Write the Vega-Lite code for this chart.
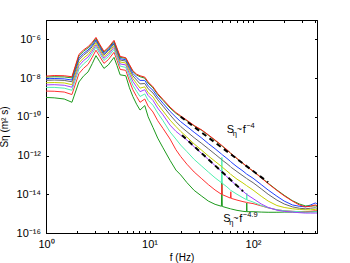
{
  "$schema": "https://vega.github.io/schema/vega-lite/v6.json",
  "width": 271,
  "height": 213,
  "autosize": {"type": "none"},
  "padding": {"left": 46, "top": 20, "right": 33, "bottom": 30},
  "background": "white",
  "config": {
    "font": "Liberation Sans",
    "view": {"stroke": "#000000", "strokeWidth": 1},
    "axis": {"domainColor": "#000000", "tickColor": "#000000", "labelColor": "#000000", "titleColor": "#000000", "grid": false, "labelFontSize": 11, "titleFontSize": 10, "titleFontWeight": "normal", "labelFlush": false, "labelOverlap": false}
  },
  "layer": [
    {
      "data": {"values": [
        {"f":1,"a":-7.9,"b":-7.95,"c":-8.04,"d":-8.12,"e":-8.24,"g":-8.35,"h":-8.48,"i":-8.67,"j":-9.0},
        {"f":1.2,"a":-7.87,"b":-7.93,"c":-8.02,"d":-8.1,"e":-8.23,"g":-8.34,"h":-8.48,"i":-8.68,"j":-9.02},
        {"f":1.5,"a":-7.88,"b":-7.94,"c":-8.04,"d":-8.12,"e":-8.25,"g":-8.37,"h":-8.52,"i":-8.72,"j":-9.08},
        {"f":1.78,"a":-7.93,"b":-7.99,"c":-8.1,"d":-8.19,"e":-8.34,"g":-8.47,"h":-8.63,"i":-8.85,"j":-9.25},
        {"f":2.08,"a":-6.78,"b":-6.85,"c":-6.96,"d":-7.06,"e":-7.22,"g":-7.36,"h":-7.53,"i":-7.77,"j":-8.2},
        {"f":2.3,"a":-6.55,"b":-6.62,"c":-6.73,"d":-6.82,"e":-6.97,"g":-7.1,"h":-7.27,"i":-7.5,"j":-7.9},
        {"f":2.55,"a":-6.38,"b":-6.44,"c":-6.55,"d":-6.64,"e":-6.78,"g":-6.91,"h":-7.07,"i":-7.29,"j":-7.68},
        {"f":2.8,"a":-6.15,"b":-6.2,"c":-6.29,"d":-6.37,"e":-6.49,"g":-6.6,"h":-6.73,"i":-6.92,"j":-7.25},
        {"f":3.04,"a":-5.9,"b":-5.95,"c":-6.02,"d":-6.09,"e":-6.19,"g":-6.29,"h":-6.4,"i":-6.56,"j":-6.84},
        {"f":3.3,"a":-6.25,"b":-6.3,"c":-6.37,"d":-6.43,"e":-6.53,"g":-6.62,"h":-6.73,"i":-6.88,"j":-7.15},
        {"f":3.63,"a":-6.62,"b":-6.66,"c":-6.73,"d":-6.8,"e":-6.89,"g":-6.98,"h":-7.09,"i":-7.24,"j":-7.5},
        {"f":4.0,"a":-6.42,"b":-6.47,"c":-6.54,"d":-6.6,"e":-6.7,"g":-6.79,"h":-6.9,"i":-7.05,"j":-7.32},
        {"f":4.54,"a":-6.05,"b":-6.1,"c":-6.16,"d":-6.23,"e":-6.32,"g":-6.41,"h":-6.52,"i":-6.67,"j":-6.93},
        {"f":4.85,"a":-6.45,"b":-6.5,"c":-6.57,"d":-6.63,"e":-6.73,"g":-6.82,"h":-6.93,"i":-7.08,"j":-7.35},
        {"f":5.2,"a":-6.88,"b":-6.93,"c":-7.0,"d":-7.07,"e":-7.17,"g":-7.27,"h":-7.38,"i":-7.55,"j":-7.83},
        {"f":5.9,"a":-6.95,"b":-6.98,"c":-7.05,"d":-7.12,"e":-7.22,"g":-7.32,"h":-7.45,"i":-7.6,"j":-7.88},
        {"f":6.4,"a":-7.3,"b":-7.34,"c":-7.42,"d":-7.52,"e":-7.65,"g":-7.78,"h":-7.95,"i":-8.15,"j":-8.5},
        {"f":6.9,"a":-7.62,"b":-7.66,"c":-7.76,"d":-7.88,"e":-8.02,"g":-8.17,"h":-8.37,"i":-8.6,"j":-8.95},
        {"f":7.5,"a":-7.8,"b":-7.84,"c":-7.96,"d":-8.1,"e":-8.28,"g":-8.45,"h":-8.68,"i":-8.95,"j":-9.35},
        {"f":8.1,"a":-7.88,"b":-7.93,"c":-8.12,"d":-8.3,"e":-8.52,"g":-8.7,"h":-8.95,"i":-9.25,"j":-9.65},
        {"f":9.0,"a":-7.95,"b":-8.0,"c":-8.12,"d":-8.28,"e":-8.45,"g":-8.6,"h":-8.82,"i":-9.08,"j":-9.42},
        {"f":9.7,"a":-8.2,"b":-8.26,"c":-8.4,"d":-8.55,"e":-8.75,"g":-8.9,"h":-9.15,"i":-9.45,"j":-10.0},
        {"f":10.8,"a":-8.45,"b":-8.5,"c":-8.63,"d":-8.77,"e":-8.97,"g":-9.15,"h":-9.4,"i":-9.75,"j":-10.55},
        {"f":12,"a":-8.8,"b":-8.85,"c":-8.98,"d":-9.12,"e":-9.35,"g":-9.55,"h":-9.8,"i":-10.2,"j":-11.1},
        {"f":13.5,"a":-9.1,"b":-9.15,"c":-9.3,"d":-9.45,"e":-9.7,"g":-9.9,"h":-10.2,"i":-10.6,"j":-11.6},
        {"f":15.8,"a":-9.5,"b":-9.55,"c":-9.72,"d":-9.9,"e":-10.17,"g":-10.43,"h":-10.78,"i":-11.15,"j":-12.25},
        {"f":18,"a":-9.78,"b":-9.82,"c":-10.02,"d":-10.25,"e":-10.5,"g":-10.75,"h":-11.15,"i":-11.7,"j":-12.75},
        {"f":20,"a":-9.95,"b":-9.99,"c":-10.25,"d":-10.5,"e":-10.75,"g":-10.95,"h":-11.46,"i":-12.05,"j":-13.0},
        {"f":23,"a":-10.18,"b":-10.21,"c":-10.5,"d":-10.77,"e":-11.05,"g":-11.2,"h":-11.8,"i":-12.45,"j":-13.4},
        {"f":27,"a":-10.45,"b":-10.47,"c":-10.8,"d":-11.08,"e":-11.4,"g":-11.55,"h":-12.2,"i":-12.85,"j":-13.8},
        {"f":32,"a":-10.68,"b":-10.7,"c":-11.1,"d":-11.38,"e":-11.73,"g":-11.9,"h":-12.55,"i":-13.2,"j":-14.1},
        {"f":37,"a":-10.93,"b":-10.95,"c":-11.38,"d":-11.65,"e":-12.02,"g":-12.2,"h":-12.85,"i":-13.5,"j":-14.35},
        {"f":43,"a":-11.2,"b":-11.22,"c":-11.65,"d":-11.93,"e":-12.3,"g":-12.52,"h":-13.15,"i":-13.78,"j":-14.52},
        {"f":49.5,"a":-11.46,"b":-11.48,"c":-11.92,"d":-12.2,"e":-12.56,"g":-12.82,"h":-13.4,"i":-14.0,"j":-14.62},
        {"f":50,"a":-11.48,"b":-11.5,"c":-11.94,"d":-12.22,"e":-12.58,"g":-12.84,"h":-12.1,"i":-13.5,"j":-13.4},
        {"f":50.5,"a":-11.5,"b":-11.52,"c":-11.96,"d":-12.24,"e":-12.6,"g":-12.86,"h":-13.43,"i":-14.02,"j":-14.63},
        {"f":56,"a":-11.7,"b":-11.72,"c":-12.15,"d":-12.42,"e":-12.8,"g":-13.1,"h":-13.62,"i":-14.12,"j":-14.7},
        {"f":60.5,"a":-11.86,"b":-11.87,"c":-12.3,"d":-12.57,"e":-12.95,"g":-13.26,"h":-13.78,"i":-14.2,"j":-14.75},
        {"f":61,"a":-11.88,"b":-11.89,"c":-12.32,"d":-12.59,"e":-12.97,"g":-13.28,"h":-13.8,"i":-13.87,"j":-14.75},
        {"f":61.5,"a":-11.9,"b":-11.91,"c":-12.34,"d":-12.61,"e":-12.99,"g":-13.3,"h":-13.81,"i":-14.21,"j":-14.76},
        {"f":70,"a":-12.15,"b":-12.16,"c":-12.58,"d":-12.83,"e":-13.22,"g":-13.57,"h":-14.0,"i":-14.3,"j":-14.83},
        {"f":80,"a":-12.4,"b":-12.41,"c":-12.8,"d":-13.05,"e":-13.42,"g":-13.84,"h":-14.18,"i":-14.38,"j":-14.88},
        {"f":86.5,"a":-12.55,"b":-12.56,"c":-12.95,"d":-13.18,"e":-13.55,"g":-14.0,"h":-14.28,"i":-14.42,"j":-14.9},
        {"f":87,"a":-12.57,"b":-12.58,"c":-12.96,"d":-13.19,"e":-13.56,"g":-14.01,"h":-13.95,"i":-14.42,"j":-14.45},
        {"f":87.5,"a":-12.58,"b":-12.59,"c":-12.97,"d":-13.2,"e":-13.57,"g":-14.02,"h":-14.29,"i":-14.43,"j":-14.9},
        {"f":100,"a":-12.8,"b":-12.8,"c":-13.17,"d":-13.4,"e":-13.78,"g":-14.22,"h":-14.4,"i":-14.48,"j":-14.9},
        {"f":120,"a":-13.15,"b":-13.13,"c":-13.5,"d":-13.72,"e":-14.1,"g":-14.5,"h":-14.58,"i":-14.6,"j":-14.92},
        {"f":140,"a":-13.45,"b":-13.43,"c":-13.78,"d":-14.0,"e":-14.35,"g":-14.68,"h":-14.7,"i":-14.7,"j":-14.93},
        {"f":170,"a":-13.8,"b":-13.78,"c":-14.1,"d":-14.3,"e":-14.58,"g":-14.82,"h":-14.8,"i":-14.8,"j":-14.93},
        {"f":200,"a":-14.08,"b":-14.05,"c":-14.35,"d":-14.5,"e":-14.68,"g":-14.88,"h":-14.85,"i":-14.85,"j":-14.92},
        {"f":240,"a":-14.35,"b":-14.33,"c":-14.55,"d":-14.65,"e":-14.75,"g":-14.92,"h":-14.88,"i":-14.88,"j":-14.92},
        {"f":280,"a":-14.55,"b":-14.5,"c":-14.62,"d":-14.72,"e":-14.78,"g":-14.95,"h":-14.9,"i":-14.9,"j":-14.92},
        {"f":320,"a":-14.65,"b":-14.6,"c":-14.65,"d":-14.75,"e":-14.8,"g":-14.97,"h":-14.92,"i":-14.9,"j":-14.92},
        {"f":360,"a":-14.62,"b":-14.6,"c":-14.55,"d":-14.72,"e":-14.8,"g":-14.97,"h":-14.92,"i":-14.88,"j":-14.9},
        {"f":400,"a":-14.55,"b":-14.6,"c":-14.45,"d":-14.7,"e":-14.78,"g":-14.97,"h":-14.9,"i":-14.85,"j":-14.9},
        {"f":415,"a":-14.6,"b":-14.62,"c":-14.5,"d":-14.72,"e":-14.8,"g":-14.97,"h":-14.9,"i":-14.85,"j":-14.9}
      ]},
      "transform": [{"fold": ["j","i","h","g","e","d","c","b","a"], "as": ["s","v"]}],
      "mark": {"type": "line", "strokeWidth": 1, "clip": true},
      "encoding": {
        "x": {"field": "f", "type": "quantitative", "scale": {"type": "log", "domain": [1, 415], "nice": false},
              "axis": {"orient": "bottom", "values": [1,2,3,4,5,6,7,8,9,10,20,30,40,50,60,70,80,90,100,200,300,400],
                       "labelExpr": "datum.value==1?'10⁰':datum.value==10?'10¹':datum.value==100?'10²':''",
                       "tickSize": -2.5, "labelPadding": 8, "title": "f (Hz)", "titlePadding": 3}},
        "y": {"field": "v", "type": "quantitative", "scale": {"domain": [-16, -5], "nice": false, "zero": false},
              "axis": {"orient": "left", "values": [-16,-14,-12,-10,-8,-6],
                       "labelExpr": "datum.value==-6?'10⁻⁶':datum.value==-8?'10⁻⁸':datum.value==-10?'10⁻¹⁰':datum.value==-12?'10⁻¹²':datum.value==-14?'10⁻¹⁴':datum.value==-16?'10⁻¹⁶':''",
                       "tickSize": -2.5, "labelPadding": 8, "title": "Sη (m² s)", "titlePadding": 6}},
        "color": {"field": "s", "type": "nominal", "legend": null,
                  "scale": {"domain": ["a","b","c","d","e","g","h","i","j"],
                            "range": ["#ff1a1a","#22a022","#2040ff","#666666","#c4d000","#a040ff","#50f0b0","#ff3030","#1c9a1c"]}}
      }
    },
    {
      "data": {"values": [
        {"f":20,"v":-10.0,"k":"p4"},{"f":140,"v":-13.38,"k":"p4"},
        {"f":20.6,"v":-10.95,"k":"p49"},{"f":80,"v":-13.84,"k":"p49"}
      ]},
      "mark": {"type": "line", "color": "#000000", "strokeWidth": 2, "strokeDash": [5, 4]},
      "encoding": {
        "x": {"field": "f", "type": "quantitative",
              "axis": {"orient": "top", "values": [1,2,3,4,5,6,7,8,9,10,20,30,40,50,60,70,80,90,100,200,300,400], "labels": false, "title": null, "tickSize": -2.5}},
        "y": {"field": "v", "type": "quantitative",
              "axis": {"orient": "right", "values": [-16,-14,-12,-10,-8,-6], "labels": false, "title": null, "tickSize": -2.5}},
        "detail": {"field": "k"}
      }
    },
    {
      "data": {"name": "ann", "values": [
        {"f":55.7,"v":-10.85,"sup":"−4"},
        {"f":51.6,"v":-15.42,"sup":"−4.9"}
      ]},
      "layer": [
        {"mark": {"type": "text", "text": "S", "align": "left", "baseline": "alphabetic", "fontSize": 11}},
        {"mark": {"type": "text", "text": "η", "align": "left", "baseline": "alphabetic", "fontSize": 7.5, "dx": 6, "dy": 3}},
        {"mark": {"type": "text", "text": "~", "align": "left", "baseline": "alphabetic", "fontSize": 9, "dx": 10, "dy": -1}},
        {"mark": {"type": "text", "text": "f", "align": "left", "baseline": "alphabetic", "fontSize": 11, "dx": 16}},
        {"mark": {"type": "text", "align": "left", "baseline": "alphabetic", "fontSize": 7.5, "dx": 19.5, "dy": -5},
         "encoding": {"text": {"field": "sup"}}}
      ],
      "encoding": {
        "x": {"field": "f", "type": "quantitative", "axis": null},
        "y": {"field": "v", "type": "quantitative", "axis": null}
      }
    }
  ],
  "resolve": {"axis": {"x": "independent", "y": "independent"}}
}
